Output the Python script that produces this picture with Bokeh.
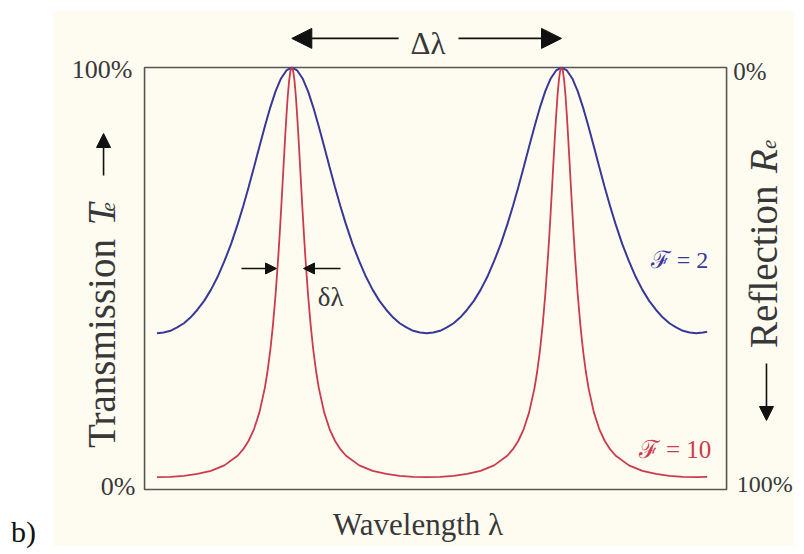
import math
from bokeh.plotting import figure
from bokeh.models import Label, Arrow, NormalHead, Div, Range1d
from bokeh.layouts import row
from bokeh.embed import file_html
from bokeh.resources import INLINE

# ---- data (x in units of the free spectral range, peaks at 0 and 1) ----
blue_x = [-0.50, -0.475, -0.45, -0.425, -0.40, -0.375, -0.35, -0.325, -0.30, -0.275, -0.25, -0.225,
          -0.20, -0.18, -0.16, -0.14, -0.12, -0.10, -0.08, -0.06, -0.04, -0.02, 0.00,
          0.02, 0.04, 0.06, 0.08, 0.10, 0.12, 0.14, 0.16, 0.18, 0.20, 0.225,
          0.25, 0.275, 0.30, 0.325, 0.35, 0.375, 0.40, 0.425, 0.45, 0.475, 0.50,
          0.525, 0.55, 0.575, 0.60, 0.625, 0.65, 0.675, 0.70, 0.725, 0.75, 0.775,
          0.80, 0.82, 0.84, 0.86, 0.88, 0.90, 0.92, 0.94, 0.96, 0.98, 1.00,
          1.02, 1.04, 1.06, 1.08, 1.10, 1.12, 1.14, 1.16, 1.18, 1.20, 1.225,
          1.25, 1.275, 1.30, 1.325, 1.35, 1.375, 1.40, 1.425, 1.45, 1.475, 1.50,
          1.525, 1.54]
blue_t = [0.370, 0.372, 0.376, 0.384, 0.394, 0.408, 0.426, 0.447, 0.473, 0.504, 0.541, 0.582,
          0.630, 0.672, 0.717, 0.764, 0.813, 0.860, 0.905, 0.944, 0.974, 0.993, 1.000,
          0.993, 0.974, 0.944, 0.905, 0.860, 0.813, 0.764, 0.717, 0.672, 0.630, 0.582,
          0.541, 0.504, 0.473, 0.447, 0.426, 0.408, 0.394, 0.384, 0.376, 0.372, 0.370,
          0.372, 0.376, 0.384, 0.394, 0.408, 0.426, 0.447, 0.473, 0.504, 0.541, 0.582,
          0.630, 0.672, 0.717, 0.764, 0.813, 0.860, 0.905, 0.944, 0.974, 0.993, 1.000,
          0.993, 0.974, 0.944, 0.905, 0.860, 0.813, 0.764, 0.717, 0.672, 0.630, 0.582,
          0.541, 0.504, 0.473, 0.447, 0.426, 0.408, 0.394, 0.384, 0.376, 0.372, 0.370,
          0.372, 0.374]

red_x = [-0.50, -0.45, -0.40, -0.35, -0.30, -0.25, -0.20, -0.18, -0.16, -0.14, -0.12, -0.10, -0.09, -0.08, -0.07, -0.06,
         -0.05, -0.045, -0.04, -0.035, -0.03, -0.025, -0.02, -0.015, -0.01, -0.005, 0.00,
         0.005, 0.01, 0.015, 0.02, 0.025, 0.03, 0.035, 0.04, 0.045, 0.05, 0.06, 0.07, 0.08, 0.09, 0.10,
         0.12, 0.14, 0.16, 0.18, 0.20, 0.25, 0.30, 0.35, 0.40, 0.45, 0.50,
         0.55, 0.60, 0.65, 0.70, 0.75, 0.80, 0.82, 0.84, 0.86, 0.88, 0.90, 0.91, 0.92, 0.93, 0.94, 0.95,
         0.955, 0.96, 0.965, 0.97, 0.975, 0.98, 0.985, 0.99, 0.995, 1.00,
         1.005, 1.01, 1.015, 1.02, 1.025, 1.03, 1.035, 1.04, 1.045, 1.05, 1.06, 1.07, 1.08, 1.09, 1.10,
         1.12, 1.14, 1.16, 1.18, 1.20, 1.25, 1.30, 1.35, 1.40, 1.45, 1.50, 1.54]
red_t = [0.0294, 0.0301, 0.0324, 0.0368, 0.0443, 0.0571, 0.0806, 0.0955, 0.1155, 0.1432, 0.1828, 0.2409, 0.2802, 0.3288, 0.3891, 0.4632,
         0.5532, 0.6042, 0.6586, 0.7157, 0.7739, 0.8312, 0.8849, 0.9318, 0.9685, 0.9919, 1.0,
         0.9919, 0.9685, 0.9318, 0.8849, 0.8312, 0.7739, 0.7157, 0.6586, 0.6042, 0.5532, 0.4632, 0.3891, 0.3288, 0.2802, 0.2409,
         0.1828, 0.1432, 0.1155, 0.0955, 0.0806, 0.0571, 0.0443, 0.0368, 0.0324, 0.0301, 0.0294,
         0.0301, 0.0324, 0.0368, 0.0443, 0.0571, 0.0806, 0.0955, 0.1155, 0.1432, 0.1828, 0.2409, 0.2802, 0.3288, 0.3891, 0.4632, 0.5532,
         0.6042, 0.6586, 0.7157, 0.7739, 0.8312, 0.8849, 0.9318, 0.9685, 0.9919, 1.0,
         0.9919, 0.9685, 0.9318, 0.8849, 0.8312, 0.7739, 0.7157, 0.6586, 0.6042, 0.5532, 0.4632, 0.3891, 0.3288, 0.2802, 0.2409,
         0.1828, 0.1432, 0.1155, 0.0955, 0.0806, 0.0571, 0.0443, 0.0368, 0.0324, 0.0301, 0.0294, 0.0298]

left_ticks = ["100%", "0%"]
right_ticks = ["0%", "100%"]
series_labels = ["\u2131 = 2", "\u2131 = 10"]

# plot box (the drawn frame) in data units: x from left edge to right edge, y 0%..100%
box_x = [-0.546, 1.612]
box_y = [0.0, 1.0]

CREAM = "#FEFCF0"
BLUE = "#38389A"
RED = "#CC3A4C"
TXT = "#383838"
SERIF = "Liberation Serif"

p = figure(width=741, height=536, output_backend="svg", toolbar_location=None,
           x_range=Range1d(-0.8836, 1.8639), y_range=Range1d(-0.1351, 1.1351),
           x_axis_location=None, y_axis_location=None,
           min_border_left=0, min_border_right=0, min_border_top=0, min_border_bottom=0,
           background_fill_color=CREAM, border_fill_color=CREAM,
           outline_line_color=None)
p.margin = (10, 0, 0, 0)
p.xgrid.visible = False
p.ygrid.visible = False

p.quad(left=[box_x[0]], right=[box_x[1]], bottom=[box_y[0]], top=[box_y[1]],
       fill_color=None, line_color="#555555", line_width=1.6)

p.line(blue_x, blue_t, line_color=BLUE, line_width=2.0)
p.line(red_x, red_t, line_color=RED, line_width=1.8)

def lab(x, y, text, size, color=TXT, align="center", baseline="middle", angle=0.0, style="normal"):
    p.add_layout(Label(x=x, y=y, text=text, text_font=SERIF, text_font_size=f"{size}px",
                       text_color=color, text_align=align, text_baseline=baseline,
                       angle=angle, text_font_style=style))

# tick-like labels
lab(-0.591, 0.995, left_ticks[0], 26, align="right")
lab(-0.580, 0.007, left_ticks[1], 26, align="right")
lab(1.637, 0.990, right_ticks[0], 25, align="left")
lab(1.650, 0.012, right_ticks[1], 24, align="left")

# axis titles
lab(0.468, -0.083, "Wavelength \u03bb", 31)
lab(-0.7056, 0.346, "Transmission", 39, baseline="alphabetic", angle=math.pi / 2)
lab(-0.7056, 0.652, "T", 39, baseline="alphabetic", angle=math.pi / 2, style="italic")
lab(-0.683, 0.670, "e", 21, baseline="alphabetic", angle=math.pi / 2, style="italic")
lab(1.749, 0.528, "Reflection", 39, baseline="alphabetic", angle=math.pi / 2)
lab(1.749, 0.778, "R", 39, baseline="alphabetic", angle=math.pi / 2, style="italic")
lab(1.7704, 0.818, "e", 21, baseline="alphabetic", angle=math.pi / 2, style="italic")

# annotations
lab(0.505, 1.057, "\u0394\u03bb", 31)
lab(0.144, 0.455, "\u03b4\u03bb", 27)
lab(1.331, 0.5427, series_labels[0], 24, color=BLUE, align="left")
lab(1.286, 0.0948, series_labels[1], 25, color=RED, align="left")

def arrow(x0, y0, x1, y1, size, lw):
    p.add_layout(Arrow(x_start=x0, y_start=y0, x_end=x1, y_end=y1, line_color="#111111", line_width=lw,
                       end=NormalHead(size=size, fill_color="#111111", line_color="#111111", line_width=1)))

arrow(0.396, 1.069, 0.0, 1.069, 20, 1.6)
arrow(0.618, 1.069, 1.0, 1.069, 20, 1.6)
arrow(-0.1865, 0.5237, -0.0567, 0.5237, 11, 1.4)
arrow(0.1806, 0.5237, 0.0434, 0.5237, 11, 1.4)
arrow(-0.698, 0.744, -0.698, 0.8436, 14, 1.6)
arrow(1.760, 0.2986, 1.760, 0.1635, 14, 1.6)

div = Div(text='<div style="margin-top:512px;margin-left:6px;font-family:\'Liberation Serif\';'
               'font-size:30px;line-height:30px;color:#111;">b)</div>',
          width=43, height=546, styles={"background-color": "white", "overflow": "visible"})

layout = row(div, p)
open("out.html", "w").write(file_html(layout, INLINE))
